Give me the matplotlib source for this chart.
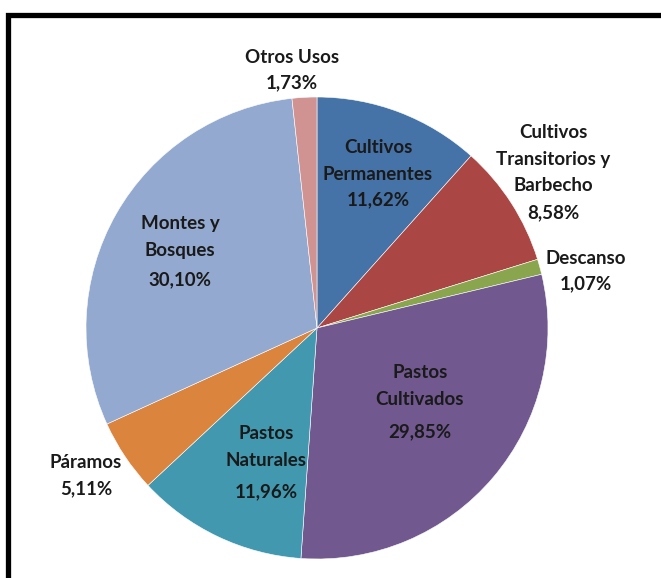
import matplotlib.pyplot as plt
from matplotlib.patches import Rectangle

# Land use shares, clockwise from 12 o'clock
labels = ["Cultivos\nPermanentes", "Cultivos\nTransitorios y\nBarbecho", "Descanso",
          "Pastos\nCultivados", "Pastos\nNaturales", "Páramos",
          "Montes y\nBosques", "Otros Usos"]
values = [11.62, 8.58, 1.07, 29.85, 11.96, 5.11, 30.10, 1.73]
pct_text = ["11,62%", "8,58%", "1,07%", "29,85%", "11,96%", "5,11%", "30,10%", "1,73%"]
colors = ["#4572A7", "#AA4643", "#89A54E", "#71588F", "#4198AF", "#DB843D", "#93A9CF", "#D19392"]

# label placement in pixels: (x, name block centre y, percent y)
label_px = [(378, 161, 200), (553, 159, 213), (586, 258, 284), (420, 386, 432),
            (266, 447, 492), (86, 462, 489), (180, 237, 280), (292, 57, 83)]

fig = plt.figure(figsize=(6.61, 5.78), dpi=100)
ax = fig.add_axes([0, 0, 1, 1])

ax.pie(values, colors=colors, startangle=90, counterclock=False, radius=1.0,
       wedgeprops=dict(edgecolor="white", linewidth=0.4))

# map pie units to pixels: centre at (317, 328), radius 231 px
cx, cy, r = 317.0, 328.0, 231.0

def to_u(px, py):
    return (px - cx) / r, (cy - py) / r

style = dict(ha="center", va="center", fontsize=13.5, fontfamily="Lato",
             fontweight="bold", color="#1a1a1a", linespacing=1.7)
for lab, pct, (px, ny, py) in zip(labels, pct_text, label_px):
    ax.text(*to_u(px, ny), lab, **style)
    ax.text(*to_u(px, py), pct, **style)

ax.set_xlim(-cx / r, (661 - cx) / r)
ax.set_ylim(-(578 - cy) / r, cy / r)
ax.set_aspect("auto")
ax.axis("off")

# black frame, cut off at right and bottom
fig.patches.append(Rectangle((7.5 / 661, -0.1), 1.2, 1 - 15.5 / 578 + 0.1,
                             transform=fig.transFigure, fill=False,
                             edgecolor="black", linewidth=3.8))

fig.savefig("out.png", dpi=100)
